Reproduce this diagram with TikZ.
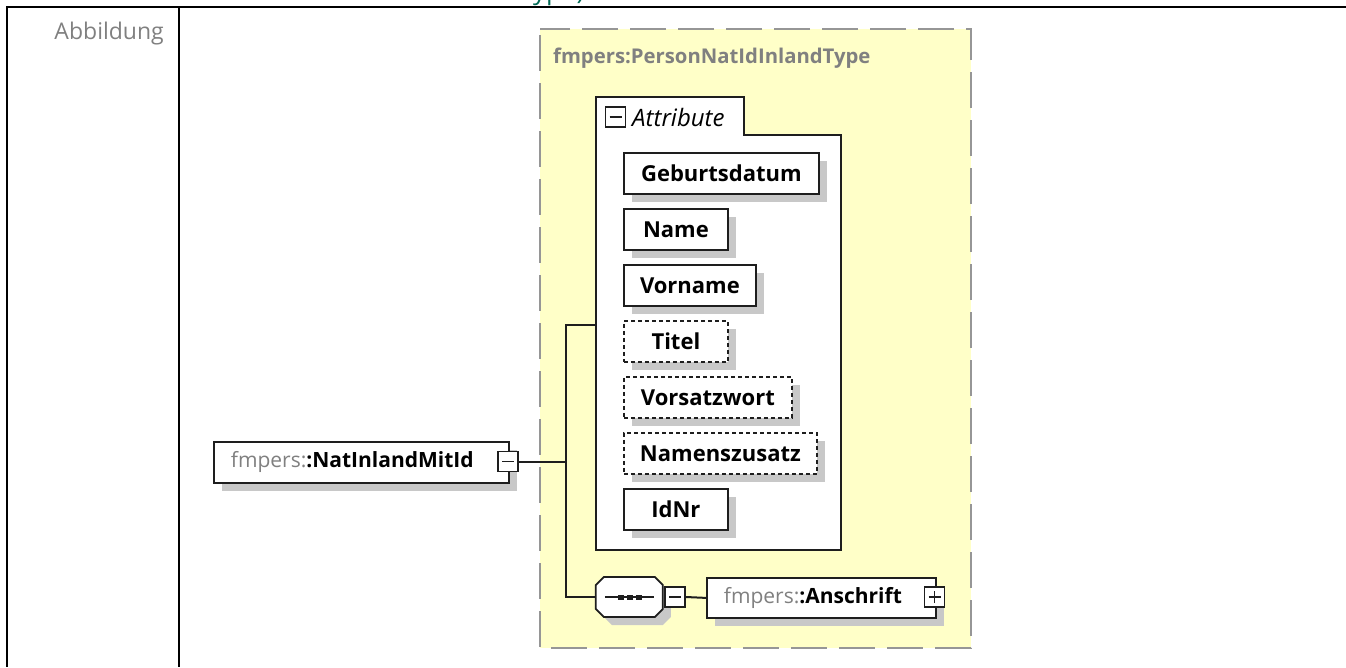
\documentclass[tikz,border=0pt]{standalone}
\usepackage{fontspec}
\setmainfont{Open Sans}
\usetikzlibrary{shadows}
\definecolor{boxyellow}{RGB}{255,255,200}
\definecolor{dashgray}{RGB}{150,150,150}
\definecolor{shadowgray}{RGB}{200,200,200}
\definecolor{labelgray}{RGB}{128,128,128}
\definecolor{headgreen}{RGB}{0,105,85}
\definecolor{edgeblack}{RGB}{30,30,30}
\tikzset{
  shade8/.style={drop shadow={shadow xshift=8pt, shadow yshift=-8pt, fill=shadowgray, opacity=1}},
  elem/.style={draw=edgeblack, fill=white, line width=1.8pt, minimum height=41pt, inner sep=0pt,
    anchor=north west, font=\fontsize{22}{26}\selectfont\bfseries, text=black, shade8},
  optelem/.style={elem, dash pattern=on 4pt off 3pt},
  refelem/.style={elem, font=\fontsize{21}{25}\selectfont, align=left, inner xsep=17pt},
  minusbox/.style={draw=edgeblack, fill=white, minimum size=20pt, inner sep=0pt, line width=1.8pt,
    path picture={\draw[line width=1.8pt] ([xshift=4pt]path picture bounding box.west) -- ([xshift=-4pt]path picture bounding box.east);}},
  plusbox/.style={minusbox,
    path picture={\draw[line width=1.8pt] ([xshift=4pt]path picture bounding box.west) -- ([xshift=-4pt]path picture bounding box.east);
      \draw[line width=1.8pt] ([yshift=4pt]path picture bounding box.south) -- ([yshift=-4pt]path picture bounding box.north);}},
  conn/.style={draw=edgeblack, line width=2pt},
  tableline/.style={draw=black, line width=2.2pt}
}
\begin{document}
\begin{tikzpicture}[x=1pt,y=-1pt]
\useasboundingbox (0,0) rectangle (1346,667);
% clipped heading remnant
\begin{scope}
\clip (0,0) rectangle (1346,5.5);
\node[anchor=base west, text=headgreen, inner sep=0pt, font=\fontsize{26}{30}\selectfont] (head) at (519,-1) {Type)};
\end{scope}
% table lines
\draw[tableline] (6,7) -- (1346,7);
\draw[tableline] (7,6) -- (7,667);
\draw[tableline] (179,6) -- (179,667);
\node[anchor=north east, text=labelgray, inner sep=0pt, font=\fontsize{23}{27}\selectfont] (abb) at (164,22) {Abbildung};
% yellow type box
\draw[dashgray, fill=boxyellow, line width=2pt, dash pattern=on 36pt off 12pt, dash phase=-6pt] (540,29) rectangle (971,648);
\node[anchor=west, text=labelgray, inner sep=0pt, font=\fontsize{20.3}{24}\selectfont\bfseries] (title) at (553,58) {fmpers:PersonNatIdInlandType};
% attribute group
\draw[draw=edgeblack, fill=white, line width=1.8pt] (596,97) -- (744,97) -- (744,135) -- (841,135) -- (841,550) -- (596,550) -- cycle;
\coordinate (attrL) at (596,325);
\node[minusbox] (attrminus) at (615.5,117) {};
\node[anchor=west, inner sep=0pt, font=\fontsize{24}{28}\selectfont\itshape] (attrlabel) at (632,117) {Attribute};
% attributes
\node[elem, minimum width=195pt] (geb) at (623,152) {Geburtsdatum};
\node[elem, minimum width=104pt] (name) at (623,208) {Name};
\node[elem, minimum width=132pt] (vorname) at (623,264) {Vorname};
\node[optelem, minimum width=104pt] (titel) at (623,320) {Titel};
\node[optelem, minimum width=168pt] (vorsatz) at (623,376) {Vorsatzwort};
\node[optelem, minimum width=193pt] (namensz) at (623,432) {Namenszusatz};
\node[elem, minimum width=104pt] (idnr) at (623,488) {IdNr};
% root element
\node[refelem, text width=261pt] (root) at (213,441) {\textcolor{labelgray}{fmpers:}\textbf{:NatInlandMitId}};
\node[minusbox] (rootminus) at (508,461.5) {};
% sequence (octagon)
\node[inner sep=0pt, minimum width=67pt, minimum height=40pt] (seq) at (629.5,597) {};
\fill[shadowgray] ([shift={(8,8)}]seq.west) -- ++(0,-12) -- ++(8,-8) -- ++(51,0) -- ++(8,8) -- ++(0,24) -- ++(-8,8) -- ++(-51,0) -- ++(-8,-8) -- cycle;
\filldraw[draw=edgeblack, fill=white, line width=1.8pt] (seq.west) -- ++(0,-12) -- ++(8,-8) -- ++(51,0) -- ++(8,8) -- ++(0,24) -- ++(-8,8) -- ++(-51,0) -- ++(-8,-8) -- cycle;
\draw[edgeblack, line width=1.8pt] ([xshift=9pt]seq.west) -- ([xshift=-9pt]seq.east);
\foreach \dx in {-9,0,9} \fill[edgeblack] ([xshift=\dx pt]seq.center) +(-3,-2.5) rectangle +(3,2.5);
\node[minusbox] (seqminus) at (675,597) {};
% Anschrift
\node[refelem, text width=195pt, minimum height=40pt] (ansch) at (706,577) {\textcolor{labelgray}{fmpers:}\textbf{:Anschrift}};
\node[plusbox] (anschplus) at (934.5,597) {};
% connectors
\coordinate (jn) at (566,461.5);
\draw[conn] (rootminus.east) -- (jn);
\draw[conn] (jn) -- (566,325) -- (attrL);
\draw[conn] (jn) |- (seq.west);
\draw[conn] (seqminus.east) -- (ansch.west);
\end{tikzpicture}
\end{document}
